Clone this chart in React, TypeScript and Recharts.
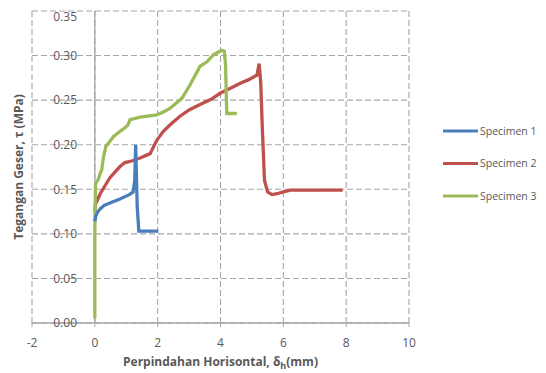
import React from "react";
import { LineChart, Line, XAxis, YAxis, CartesianGrid, ReferenceLine } from "recharts";

const s1X = [0.0, 0.03, 0.1, 0.17, 0.3, 0.5, 0.8, 1.1, 1.22, 1.27, 1.3, 1.35, 1.4, 2.02];
const s1Y = [0.114, 0.12, 0.125, 0.128, 0.132, 0.135, 0.139, 0.144, 0.147, 0.16, 0.2, 0.13, 0.103, 0.103];

const s2X = [0, 0.02, 0.17, 0.48, 0.8, 0.96, 1.2, 1.44, 1.76, 1.97, 2.18, 2.45, 2.71, 3.0, 3.35, 3.7, 4.0, 4.3, 4.63, 4.9, 5.16, 5.23, 5.28, 5.33, 5.4, 5.5, 5.64, 5.8, 6.0, 6.22, 7.0, 7.89];
const s2Y = [0.125, 0.133, 0.145, 0.163, 0.1755, 0.18, 0.182, 0.185, 0.19, 0.205, 0.215, 0.224, 0.232, 0.239, 0.245, 0.251, 0.258, 0.263, 0.269, 0.273, 0.278, 0.291, 0.27, 0.22, 0.16, 0.147, 0.144, 0.145, 0.147, 0.149, 0.149, 0.149];

const s3X = [0, 0, 0.02, 0.05, 0.11, 0.17, 0.22, 0.27, 0.35, 0.48, 0.59, 0.8, 0.96, 1.05, 1.12, 1.44, 1.97, 2.2, 2.4, 2.77, 3.03, 3.35, 3.57, 3.78, 4.04, 4.12, 4.16, 4.2, 4.52];
const s3Y = [0.005, 0.1, 0.155, 0.158, 0.161, 0.168, 0.172, 0.185, 0.198, 0.204, 0.209, 0.215, 0.219, 0.222, 0.228, 0.231, 0.2335, 0.237, 0.241, 0.252, 0.267, 0.288, 0.293, 0.301, 0.306, 0.305, 0.29, 0.235, 0.235];

const seriesNames = ["Specimen 1", "Specimen 2", "Specimen 3"];
const seriesColors = ["#4A7EBB", "#C0504D", "#9BBB59"];
const xTicks = [-2, 0, 2, 4, 6, 8, 10];
const yTicks = [0, 0.05, 0.1, 0.15, 0.2, 0.25, 0.3, 0.35];

const zip = (xs: number[], ys: number[]) => xs.map((x, i) => ({ x, y: ys[i] }));
const data1 = zip(s1X, s1Y);
const data2 = zip(s2X, s2Y);
const data3 = zip(s3X, s3Y);

const FONT = "'Open Sans', 'Liberation Sans', sans-serif";
const TEXT = "#595959";

const YTick = (props: any) => {
  const { y, payload } = props;
  return (
    <text x={69} y={y} dy="0.36em" textAnchor="end" fontFamily={FONT} fontSize={12} fill={TEXT}>
      {Number(payload.value).toFixed(2)}
    </text>
  );
};

const XTitle = (props: any) => {
  const vb = props.viewBox || {};
  const cx = vb.x + vb.width / 2;
  return (
    <text x={cx} y={358} textAnchor="middle" fontFamily={FONT} fontSize={12} fontWeight="bold" fill={TEXT}>
      Perpindahan Horisontal, δ<tspan fontSize={9} dy={3}>h</tspan>
      <tspan dy={-3}>(mm)</tspan>
    </text>
  );
};

const YTitle = (props: any) => {
  const vb = props.viewBox || {};
  const cy = vb.y + vb.height / 2;
  return (
    <text
      x={10}
      y={cy}
      transform={`rotate(-90, 10, ${cy})`}
      textAnchor="middle"
      dominantBaseline="central"
      fontFamily={FONT}
      fontSize={12}
      fontWeight="bold"
      fill={TEXT}
    >
      Tegangan Geser, τ (MPa)
    </text>
  );
};

export default function App() {
  return (
    <div style={{ position: "relative", width: 538, height: 365 }}>
      <LineChart width={538} height={365} margin={{ top: 3, right: 137, bottom: 20, left: 0 }}>
        <CartesianGrid strokeDasharray="6 3" stroke="#a6a6a6" strokeWidth={1.1} horizontalValues={yTicks} verticalValues={xTicks} />
        <XAxis
          type="number"
          dataKey="x"
          domain={[-2, 10]}
          ticks={xTicks}
          allowDataOverflow
          height={30}
          axisLine={{ stroke: "#a6a6a6", strokeWidth: 1.3 }}
          tickLine={{ stroke: "#a6a6a6" }}
          tickSize={4}
          tickMargin={11}
          tick={{ fontFamily: FONT, fontSize: 12, fill: TEXT }}
          label={<XTitle />}
        />
        <YAxis
          type="number"
          dataKey="y"
          domain={[0, 0.35]}
          ticks={yTicks}
          width={24}
          axisLine={false}
          tickLine={false}
          tick={<YTick />}
          label={<YTitle />}
        />
        <ReferenceLine x={0} stroke="#a6a6a6" strokeWidth={1.3} />
        <Line data={data2} dataKey="y" name={seriesNames[1]} stroke={seriesColors[1]} strokeWidth={3.3} dot={false} isAnimationActive={false} />
        <Line data={data3} dataKey="y" name={seriesNames[2]} stroke={seriesColors[2]} strokeWidth={3.3} dot={false} isAnimationActive={false} />
        <Line data={data1} dataKey="y" name={seriesNames[0]} stroke={seriesColors[0]} strokeWidth={3.3} dot={false} isAnimationActive={false} />
      </LineChart>
      <svg width={100} height={90} style={{ position: "absolute", left: 435, top: 113, overflow: "visible" }}>
        {seriesNames.map((name, i) => (
          <g key={name}>
            <line x1={0} x2={35} y1={10 + i * 32.5} y2={10 + i * 32.5} stroke={seriesColors[i]} strokeWidth={3} />
            <text x={37} y={10 + i * 32.5} dy="0.36em" fontFamily={FONT} fontSize={10.5} fill={TEXT}>
              {name}
            </text>
          </g>
        ))}
      </svg>
    </div>
  );
}
